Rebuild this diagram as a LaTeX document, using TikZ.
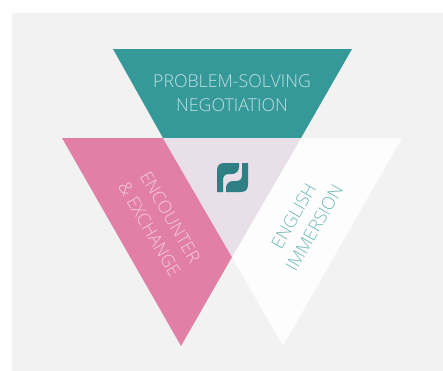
\documentclass[tikz,border=0pt]{standalone}
\usepackage{fontspec}
\setmainfont{Open Sans Light}
\definecolor{backgrey}{HTML}{F2F2F2}
\definecolor{tealtri}{HTML}{35999A}
\definecolor{pinktri}{HTML}{E27FA6}
\definecolor{mauvetri}{HTML}{E8DFE8}
\definecolor{whitetri}{HTML}{FDFDFD}
\definecolor{logoteal}{HTML}{2F7F84}
\tikzset{
  lbl/.style={align=center,font=\fontsize{13.3}{18}\selectfont,inner sep=0pt},
  logopart/.style={fill=logoteal}
}

\begin{document}
\begin{tikzpicture}[x=0.75pt,y=-0.75pt]
\useasboundingbox (0,0) rectangle (443,371);
\fill[backgrey] (12,13) rectangle (443,371);

\coordinate (TL) at (113,49);
\coordinate (TR) at (352,49);
\coordinate (PL) at (62,138);
\coordinate (ML) at (163,138);
\coordinate (MR) at (301,138);
\coordinate (WR) at (402,138);
\coordinate (MB) at (232,257);
\coordinate (PB) at (181,346);
\coordinate (WB) at (283,346);

\fill[tealtri] (TL)--(TR)--(MR)--(ML)--cycle;
\fill[pinktri] (PL)--(ML)--(MB)--(PB)--cycle;
\fill[whitetri] (MR)--(WR)--(WB)--(MB)--cycle;
\fill[mauvetri] (ML)--(MR)--(MB)--cycle;

% logo in the middle
\fill[logopart] (223,192)--(217,192)--(217,171) .. controls (217,166) and (219,163) .. (224,163)--(239,163)--(239,167) .. controls (239,171) and (236,174) .. (232,174)--(229,174) .. controls (225,174) and (223,176) .. (223,180)--cycle;
\fill[logopart] (242,163)--(248,163)--(248,184) .. controls (248,189) and (246,192) .. (241,192)--(226,192)--(226,188) .. controls (226,184) and (229,181) .. (233,181)--(236,181) .. controls (240,181) and (242,179) .. (242,175)--cycle;

\node[lbl,text=white!70!tealtri] (problem) at (232,93) {PROBLEM-SOLVING\\NEGOTIATION};
\node[lbl,text=white!60!pinktri,rotate=-60] (encounter) at (160,223) {ENCOUNTER\\\&~EXCHANGE};
\node[lbl,text=tealtri!70!white,rotate=60] (english) at (304,222) {ENGLISH\\IMMERSION};

\end{tikzpicture}
\end{document}
